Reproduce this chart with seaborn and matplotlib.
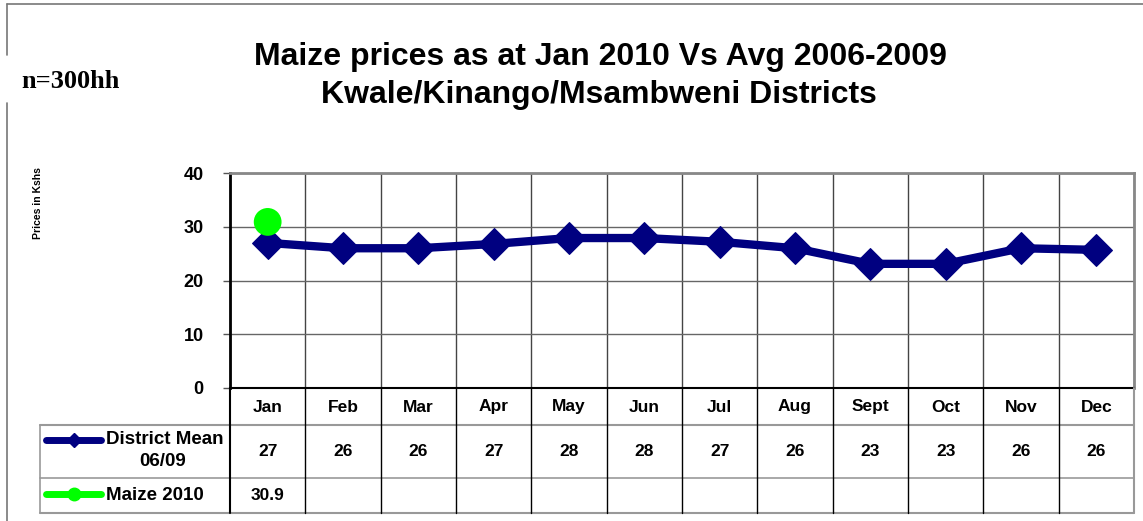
import numpy as np
import pandas as pd
import matplotlib
matplotlib.use("Agg")
import matplotlib.pyplot as plt
from matplotlib.lines import Line2D
import seaborn as sns

# Datos
meses = ["Jan", "Feb", "Mar", "Apr", "May", "Jun", "Jul", "Aug", "Sept", "Oct", "Nov", "Dec"]
media_distrito = [27.0, 26.0, 26.0, 26.8, 27.9, 27.9, 27.2, 26.0, 23.1, 23.1, 26.0, 25.7]
etiquetas_distrito = ["27", "26", "26", "27", "28", "28", "27", "26", "23", "23", "26", "26"]
maiz_2010 = [30.9]
etiquetas_maiz = ["30.9"]

df = pd.DataFrame({"mes": np.arange(len(meses)), "precio": media_distrito})
df_2010 = pd.DataFrame({"mes": np.arange(len(maiz_2010)), "precio": maiz_2010})

sns.set_style("white")
plt.rcParams["font.family"] = ["Liberation Sans", "DejaVu Sans"]
plt.rcParams["text.color"] = "black"
plt.rcParams["ytick.color"] = "black"
plt.rcParams["xtick.color"] = "black"

W, H = 1143, 521
fig = plt.figure(figsize=(W / 100, H / 100), dpi=100)

def fx(px):
    return px / W

def fy(py):
    return 1 - py / H

# --- Grafico principal ---
ax = fig.add_axes([fx(230), fy(388), fx(904), 215 / H])
sns.lineplot(data=df, x="mes", y="precio", ax=ax, color="#000080", linewidth=6,
             marker="D", markersize=16, markeredgecolor="#000080", zorder=4)
sns.scatterplot(data=df_2010, x="mes", y="precio", ax=ax, color="#00FF00", s=400,
                edgecolor="none", zorder=5)

ax.set_xlim(-0.5, len(meses) - 0.5)
ax.set_ylim(0, 40)
ax.set_yticks([0, 10, 20, 30, 40])
ax.set_yticklabels(["0", "10", "20", "30", "40"], fontsize=13, fontweight="bold")
ax.set_xticks([])
ax.set_xticks(np.arange(-0.5, len(meses), 1), minor=True)
ax.tick_params(axis="x", which="minor", length=0)
ax.tick_params(axis="y", length=5, width=1, pad=14, direction="out", left=True, color="#555555")
ax.grid(True, axis="y", color="#666666", linewidth=1)
ax.grid(True, axis="x", which="minor", color="#444444", linewidth=1)
ax.set_xlabel("")
ax.set_ylabel("")
ax.spines["left"].set_color("black")
ax.spines["left"].set_linewidth(2)
ax.spines["bottom"].set_color("black")
ax.spines["bottom"].set_linewidth(1.5)
for s in ["top", "right"]:
    ax.spines[s].set_color("#888888")
    ax.spines[s].set_linewidth(2)

# --- Tabla de datos ---
tab = fig.add_axes([fx(40), fy(513), fx(1094), 125 / H])
izq = -0.5 - 190 / (904 / 12)
der = len(meses) - 0.5
tab.set_xlim(izq, der)
tab.set_ylim(125, 0)
tab.axis("off")

gris = "#999999"
tab.plot([izq, der], [37, 37], color=gris, lw=1.5, clip_on=False)
tab.plot([izq, der], [90, 90], color=gris, lw=1.2, clip_on=False)
tab.plot([izq, der], [125, 125], color=gris, lw=1.5, clip_on=False)
tab.plot([izq, izq], [37, 125], color=gris, lw=1.2, clip_on=False)
tab.plot([-0.5, -0.5], [0, 125], color="black", lw=1.5, clip_on=False)
for k in range(1, len(meses)):
    tab.plot([k - 0.5, k - 0.5], [0, 125], color="black", lw=1, clip_on=False)
tab.plot([der, der], [0, 125], color=gris, lw=1.5, clip_on=False)

for i, m in enumerate(meses):
    tab.text(i, 19, m, ha="center", va="center", fontsize=12.5, fontweight="bold")
for i, v in enumerate(etiquetas_distrito):
    tab.text(i, 64, v, ha="center", va="center", fontsize=12.5, fontweight="bold")
for i, v in enumerate(etiquetas_maiz):
    tab.text(i, 107, v, ha="center", va="center", fontsize=12.5, fontweight="bold")

# Claves de leyenda dentro de la tabla
fig.add_artist(Line2D([fx(46), fx(101)], [fy(440), fy(440)], color="#000080", lw=5,
                      solid_capstyle="round"))
fig.add_artist(Line2D([fx(74)], [fy(440)], color="#000080", marker="D", markersize=7, lw=0))
fig.add_artist(Line2D([fx(46), fx(101)], [fy(494), fy(494)], color="#00FF00", lw=5,
                      solid_capstyle="round"))
fig.add_artist(Line2D([fx(74)], [fy(494)], color="#00FF00", marker="o", markersize=9, lw=0))
fig.text(fx(106), fy(440), "District Mean", ha="left", va="center", fontsize=13.5, fontweight="bold")
fig.text(fx(163), fy(461), "06/09", ha="center", va="center", fontsize=13.5, fontweight="bold")
fig.text(fx(106), fy(495), "Maize 2010", ha="left", va="center", fontsize=13.5, fontweight="bold")

# --- Titulos y anotaciones ---
fig.text(fx(600), fy(57), "Maize prices as at Jan 2010 Vs Avg 2006-2009", ha="center", va="center",
         fontsize=23, fontweight="bold")
fig.text(fx(599), fy(95), "Kwale/Kinango/Msambweni Districts", ha="center", va="center",
         fontsize=23, fontweight="bold")
fig.text(fx(70), fy(82), "n=300hh", ha="center", va="center", fontsize=19, fontweight="bold",
         family=["Liberation Serif", "DejaVu Serif"])
fig.text(fx(38), fy(203), "Prices in Kshs", ha="center", va="center", rotation=90,
         fontsize=7.5, fontweight="bold")

# Marco exterior
fig.add_artist(Line2D([fx(7), fx(1143)], [fy(4), fy(4)], color="#777777", lw=1.2))
fig.add_artist(Line2D([fx(7), fx(7)], [fy(4), fy(55)], color="#777777", lw=1.2))
fig.add_artist(Line2D([fx(7), fx(7)], [fy(103), fy(521)], color="#777777", lw=1.2))

plt.savefig("out.png", dpi=100)
plt.close()
